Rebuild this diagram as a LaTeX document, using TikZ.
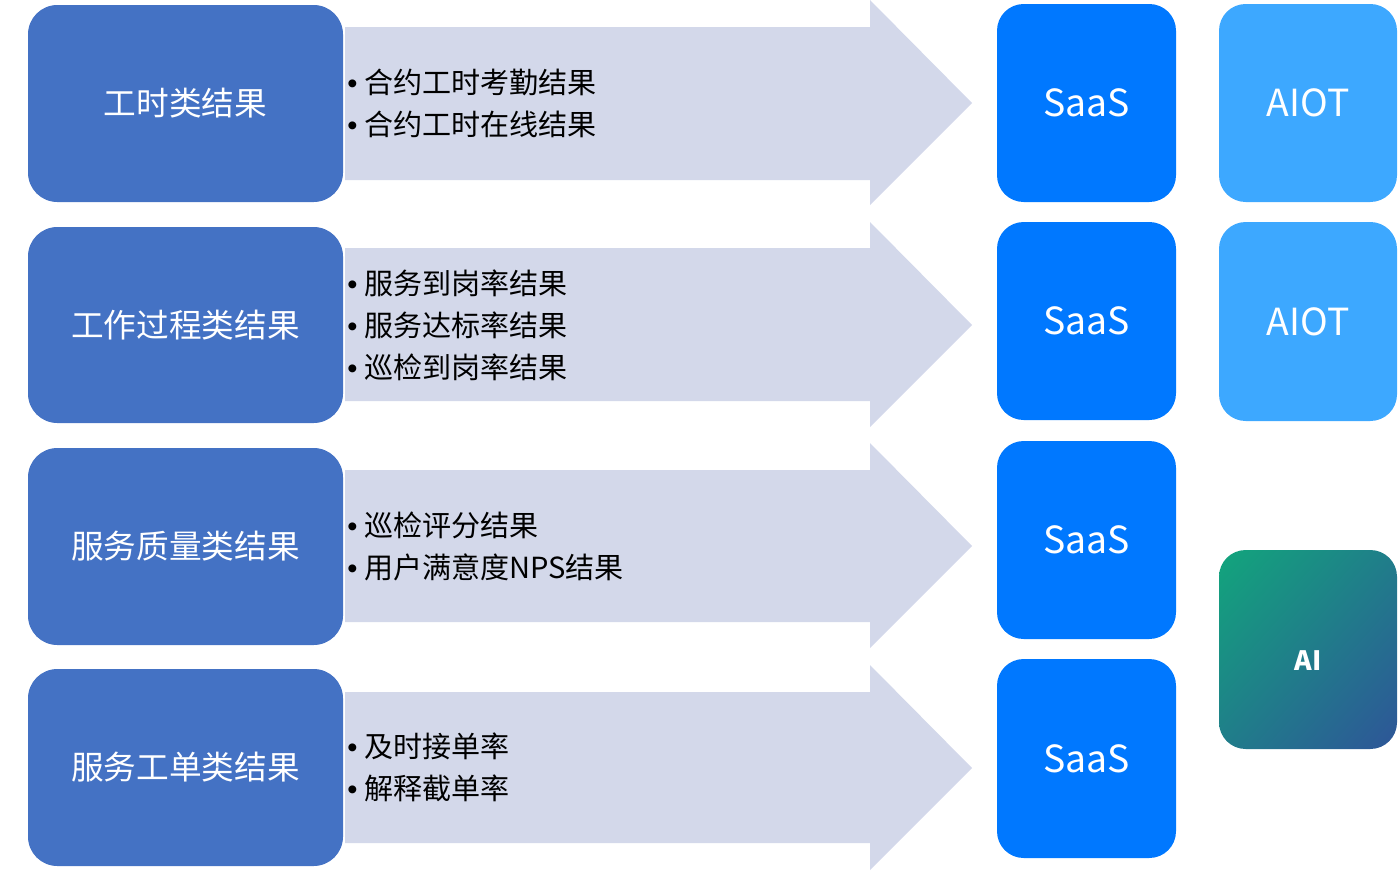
\documentclass[tikz,border=0pt]{standalone}
\usepackage{fontspec}
\usetikzlibrary{shadings}
\setmainfont{Noto Sans CJK SC}
\newfontfamily\bulfont{Liberation Sans}
\newcommand{\bul}{{\bulfont •\hspace{5pt}}}
\begin{document}
\begin{tikzpicture}[x=0.75pt,y=-0.75pt,
  cat/.style={fill=cat,rounded corners=22pt},
  saas/.style={fill=saasc,rounded corners=20pt},
  aiot/.style={fill=aiotc,rounded corners=20pt},
  arr/.style={fill=arrc},
  lbl/.style={text=white,font=\fontsize{24.5pt}{28pt}\selectfont},
  blt/.style={anchor=west,align=left,font=\fontsize{21.8pt}{31.5pt}\selectfont,inner sep=0pt},
  big/.style={text=white,font=\fontsize{28pt}{32pt}\selectfont}]
\definecolor{cat}{HTML}{4472C4}
\definecolor{saasc}{HTML}{0078FF}
\definecolor{aiotc}{HTML}{3DA8FF}
\definecolor{arrc}{HTML}{D3D8EA}
\definecolor{gA}{HTML}{12A57C}
\definecolor{gB}{HTML}{2E5598}
\useasboundingbox (0,0) rectangle (1399,872);
\foreach \t/\b/\hb/\tip [count=\i] in {27/180/0/103, 248/401/222/325, 470/622/443/546, 692/843/665/768}{
  \fill[arr] (345,\t) -- (870,\t) -- (870,\hb) -- (972,\tip) -- (870,\hb+205) -- (870,\b) -- (345,\b) -- cycle;
}
\fill[cat] (28,5) rectangle (343,202);
\fill[cat] (28,227) rectangle (343,423);
\fill[cat] (28,448) rectangle (343,645);
\fill[cat] (28,669) rectangle (343,866);
\node[lbl] (c1) at (185.5,103) {工时类结果};
\node[lbl] (c2) at (185.5,325) {工作过程类结果};
\node[lbl] (c3) at (185.5,546) {服务质量类结果};
\node[lbl] (c4) at (185.5,767) {服务工单类结果};
\node[blt] (b1) at (347,103) {\bul 合约工时考勤结果\\\bul 合约工时在线结果};
\node[blt] (b2) at (347,325) {\bul 服务到岗率结果\\\bul 服务达标率结果\\\bul 巡检到岗率结果};
\node[blt] (b3) at (347,546) {\bul 巡检评分结果\\\bul 用户满意度NPS结果};
\node[blt] (b4) at (347,767) {\bul 及时接单率\\\bul 解释截单率};
\foreach \t/\b [count=\i] in {4/202, 222/420, 441/639, 659/858}{
  \fill[saas] (997,\t) rectangle (1176,\b);
  \node[big] (s\i) at (1086.5,{(\t+\b)/2}) {SaaS};
}
\foreach \t/\b [count=\i] in {4/202, 222/421}{
  \fill[aiot] (1219,\t) rectangle (1397,\b);
  \node[big] (a\i) at (1308,{(\t+\b)/2}) {AIOT};
}
\shade[rounded corners=20pt, upper left=gA, upper right=gA!50!gB, lower left=gA!50!gB, lower right=gB] (1219,550) rectangle (1397,749);
\node[text=white,font=\fontsize{20pt}{24pt}\selectfont\bfseries] (ai) at (1308,661) {AI};
\end{tikzpicture}
\end{document}
